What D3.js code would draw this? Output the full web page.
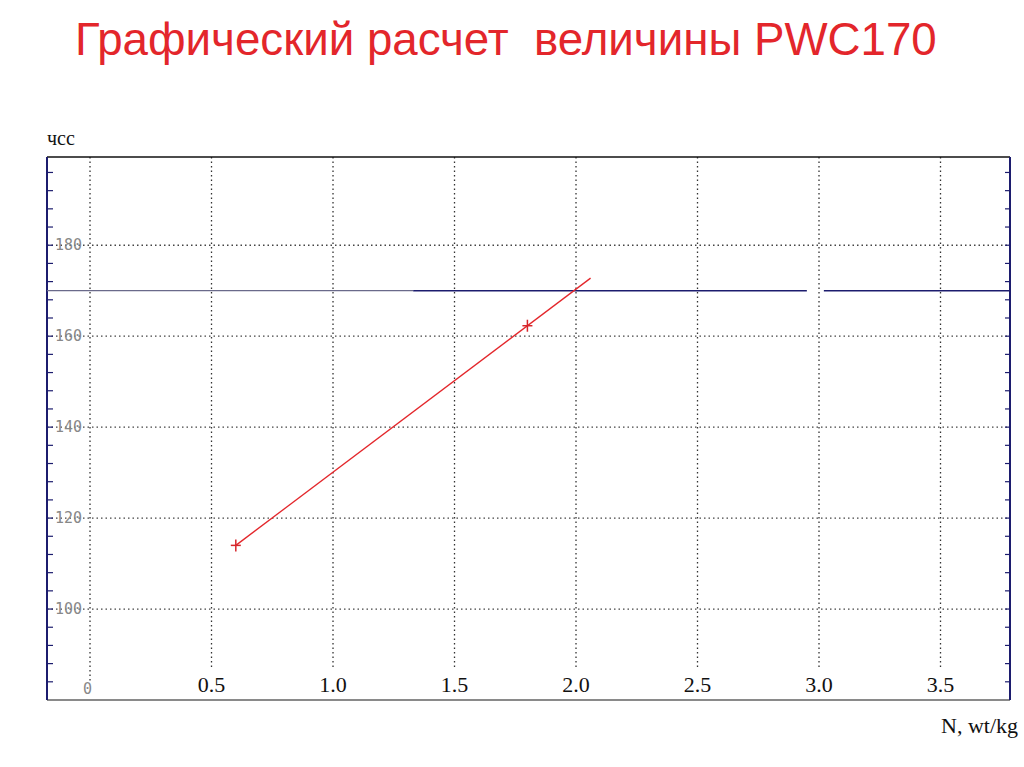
<!DOCTYPE html>
<html>
<head>
<meta charset="utf-8">
<script src="https://cdn.jsdelivr.net/npm/d3@7"></script>
<style>
  body { margin: 0; background: #fff; }
  svg { display: block; }
</style>
</head>
<body>
<svg width="1024" height="767"></svg>
<script type="text/javascript">
    var svg = d3.select("svg");

    // data
    var xTicks = [0.5, 1.0, 1.5, 2.0, 2.5, 3.0, 3.5];
    var xGrid = [0, 0.5, 1.0, 1.5, 2.0, 2.5, 3.0, 3.5];
    var yTicks = [100, 120, 140, 160, 180];
    var minorTicks = d3.range(84, 200, 4);
    var points = [[0.6, 114], [1.8, 162.3]];
    var lineEndX = 2.06;
    var pwcLevel = 170;
    var levelGap = [2.95, 3.02];

    var pLeft = 47, pRight = 1010, pTop = 157, pBottom = 700;

    var x = d3.scaleLinear().domain([-0.177, 3.786]).range([pLeft, pRight]);
    var y = d3.scaleLinear().domain([80, 199.4]).range([pBottom, pTop]);

    // title
    svg.append("text")
            .attr("x", 75).attr("y", 55)
            .attr("fill", "#e3262b")
            .style("font-family", "'Liberation Sans', Arial, sans-serif")
            .style("font-size", "45.7px")
            .style("white-space", "pre")
            .text("Графический расчет  величины PWC170");

    // grid
    svg.selectAll(".vgrid")
            .data(xGrid)
            .enter()
            .append("line")
            .attr("x1", function (d) { return x(d); })
            .attr("x2", function (d) { return x(d); })
            .attr("y1", pTop)
            .attr("y2", function (d) { return d === 0 ? 682 : 670; })
            .attr("stroke", "#333")
            .attr("stroke-width", 1.3)
            .attr("stroke-dasharray", "1.5,3");

    svg.selectAll(".hgrid")
            .data(yTicks)
            .enter()
            .append("line")
            .attr("x1", pLeft)
            .attr("x2", pRight)
            .attr("y1", function (d) { return y(d); })
            .attr("y2", function (d) { return y(d); })
            .attr("stroke", "#444")
            .attr("stroke-width", 1.3)
            .attr("stroke-dasharray", "1.5,3");

    // frame
    svg.append("line").attr("x1", pLeft).attr("x2", pRight).attr("y1", pTop).attr("y2", pTop)
            .attr("stroke", "#111").attr("stroke-width", 1.5);
    svg.append("line").attr("x1", pLeft).attr("x2", pRight).attr("y1", pBottom).attr("y2", pBottom)
            .attr("stroke", "#8a8a8a").attr("stroke-width", 2);
    svg.append("line").attr("x1", pLeft).attr("x2", pLeft).attr("y1", pTop).attr("y2", pBottom)
            .attr("stroke", "#1c1c6e").attr("stroke-width", 2);
    svg.append("line").attr("x1", pRight).attr("x2", pRight).attr("y1", pTop).attr("y2", pBottom)
            .attr("stroke", "#1c1c6e").attr("stroke-width", 2);

    // minor ticks on both sides
    svg.selectAll(".ltick")
            .data(minorTicks)
            .enter()
            .append("line")
            .attr("x1", pLeft).attr("x2", pLeft + 6)
            .attr("y1", function (d) { return y(d); })
            .attr("y2", function (d) { return y(d); })
            .attr("stroke", "#1c1c6e").attr("stroke-width", 1.2);
    svg.selectAll(".rtick")
            .data(minorTicks)
            .enter()
            .append("line")
            .attr("x1", pRight - 5).attr("x2", pRight)
            .attr("y1", function (d) { return y(d); })
            .attr("y2", function (d) { return y(d); })
            .attr("stroke", "#1c1c6e").attr("stroke-width", 1.2);

    // y labels
    svg.selectAll(".ylab")
            .data(yTicks)
            .enter()
            .append("text")
            .attr("x", 55)
            .attr("y", function (d) { return y(d) + 5; })
            .attr("fill", "#888")
            .style("font-family", "'DejaVu Sans Mono', monospace")
            .style("font-size", "15px")
            .text(function (d) { return d; });
    svg.append("text")
            .attr("x", 83).attr("y", 694)
            .attr("fill", "#888")
            .style("font-family", "'DejaVu Sans Mono', monospace")
            .style("font-size", "15px")
            .text("0");

    // x labels
    svg.selectAll(".xlab")
            .data(xTicks)
            .enter()
            .append("text")
            .attr("x", function (d) { return x(d); })
            .attr("y", 692)
            .attr("text-anchor", "middle")
            .attr("fill", "#111")
            .style("font-family", "'Liberation Serif', 'Times New Roman', serif")
            .style("font-size", "22px")
            .text(function (d) { return d3.format(".1f")(d); });

    // axis titles
    svg.append("text")
            .attr("x", 47).attr("y", 145)
            .attr("fill", "#111")
            .style("font-family", "'Liberation Serif', 'Times New Roman', serif")
            .style("font-size", "20px")
            .text("чсс");
    svg.append("text")
            .attr("x", 1018).attr("y", 733)
            .attr("text-anchor", "end")
            .attr("fill", "#111")
            .style("font-family", "'Liberation Serif', 'Times New Roman', serif")
            .style("font-size", "22px")
            .text("N, wt/kg");

    // PWC170 level
    var levelSegs = [[x.invert(pLeft), 1.33, "#6a6a8a", 1.3], [1.33, levelGap[0], "#1c1c6e", 1.6], [levelGap[1], x.invert(pRight), "#1c1c6e", 1.6]];
    svg.selectAll(".level")
            .data(levelSegs)
            .enter()
            .append("line")
            .attr("x1", function (d) { return x(d[0]); })
            .attr("x2", function (d) { return x(d[1]); })
            .attr("y1", y(pwcLevel))
            .attr("y2", y(pwcLevel))
            .attr("stroke", function (d) { return d[2]; })
            .attr("stroke-width", function (d) { return d[3]; });

    // regression line
    var slope = (points[1][1] - points[0][1]) / (points[1][0] - points[0][0]);
    var lineData = [points[0], [lineEndX, points[0][1] + slope * (lineEndX - points[0][0])]];
    svg.append("path")
            .datum(lineData)
            .attr("d", d3.line().x(function (d) { return x(d[0]); }).y(function (d) { return y(d[1]); }))
            .attr("fill", "none")
            .attr("stroke", "#e3262b")
            .attr("stroke-width", 1.3);

    // markers
    var cross = svg.selectAll(".pt")
            .data(points)
            .enter()
            .append("g")
            .attr("transform", function (d) { return "translate(" + x(d[0]) + "," + y(d[1]) + ")"; });
    cross.append("line").attr("x1", -5).attr("x2", 5).attr("y1", 0).attr("y2", 0)
            .attr("stroke", "#d6262b").attr("stroke-width", 1.5);
    cross.append("line").attr("x1", 0).attr("x2", 0).attr("y1", -6).attr("y2", 6)
            .attr("stroke", "#d6262b").attr("stroke-width", 1.5);
</script>
</body>
</html>
